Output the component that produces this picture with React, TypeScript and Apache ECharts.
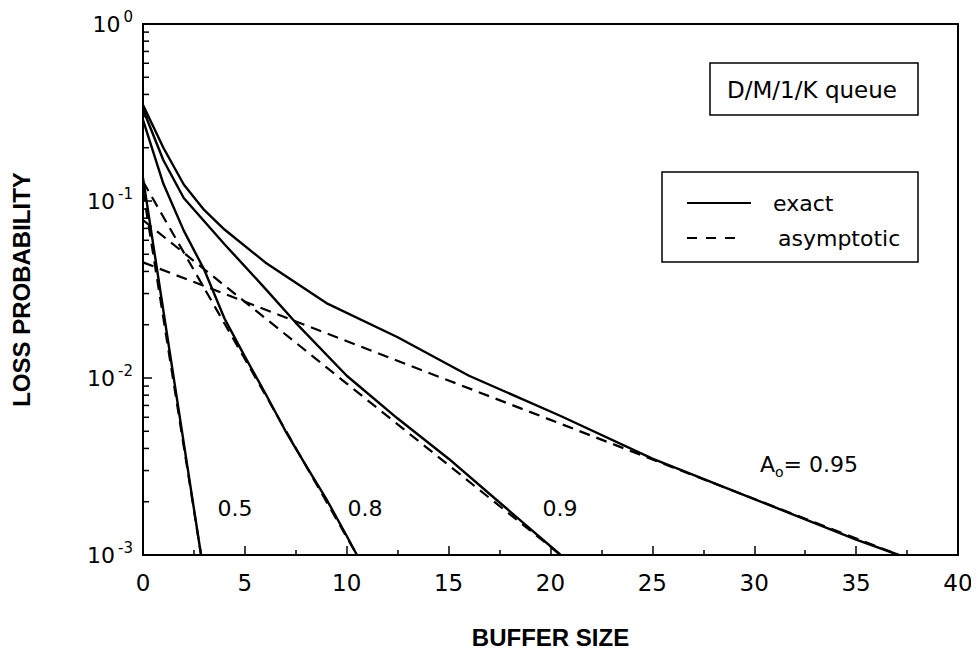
import React, { useEffect, useRef } from "react";
import * as echarts from "echarts";

// Buffer size (x) and loss probability (y)
const xExact05 = [0, 1, 2, 2.85];
const yExact05 = [0.135, 0.024, 0.0043, 0.001];
const xExact08 = [0, 1, 2, 3, 4, 5, 6, 7, 8, 9, 10, 10.5];
const yExact08 = [0.287, 0.125, 0.068, 0.041, 0.0217, 0.0132, 0.0082, 0.005, 0.0032, 0.00207, 0.00128, 0.001];
const xExact09 = [0, 1, 2, 4, 6, 7.5, 10, 12.5, 15, 17.5, 20.5];
const yExact09 = [0.33, 0.17, 0.104, 0.057, 0.032, 0.0205, 0.0103, 0.0059, 0.0035, 0.00198, 0.001];
const xExact095 = [0, 1, 2, 3, 4, 6, 9, 12.5, 16, 20.5, 25, 30, 35, 37.1];
const yExact095 = [0.349, 0.2, 0.124, 0.089, 0.069, 0.045, 0.0265, 0.017, 0.0103, 0.0061, 0.0035, 0.00207, 0.00122, 0.001];

const xAsym05 = [0, 2.85];
const yAsym05 = [0.115, 0.001];
const xAsym08 = [0, 5, 10.5];
const yAsym08 = [0.129, 0.0128, 0.001];
const xAsym09 = [0, 10, 20.5];
const yAsym09 = [0.078, 0.0093, 0.001];
const xAsym095 = [0, 20, 37.1];
const yAsym095 = [0.045, 0.0058, 0.001];

const yMinorTicks = [
  0.002, 0.003, 0.004, 0.005, 0.006, 0.007, 0.008, 0.009,
  0.02, 0.03, 0.04, 0.05, 0.06, 0.07, 0.08, 0.09,
  0.2, 0.3, 0.4, 0.5, 0.6, 0.7, 0.8, 0.9,
];

const FONT = "DejaVu Sans";
const BOLD_FONT = "Liberation Sans";

function pairs(xs: number[], ys: number[]) {
  return xs.map((x, i) => [x, ys[i]]);
}

function lineSeries(name: string, xs: number[], ys: number[], dashed: boolean) {
  return {
    name,
    type: "line",
    data: pairs(xs, ys),
    showSymbol: false,
    symbol: "none",
    smooth: false,
    lineStyle: {
      color: "#000",
      width: dashed ? 2.2 : 2.4,
      type: dashed ? [11, 7] : "solid",
    },
    z: dashed ? 3 : 4,
  };
}

export default function App() {
  const ref = useRef<HTMLDivElement>(null);

  useEffect(() => {
    if (!ref.current) return;
    const chart = echarts.init(ref.current, undefined, { renderer: "svg" });
    const option: any = {
      animation: false,
      backgroundColor: "#fff",
      grid: {
        left: 143,
        right: 21,
        top: 24,
        bottom: 97,
        show: true,
        borderColor: "#000",
        borderWidth: 2,
        backgroundColor: "transparent",
      },
      xAxis: {
        type: "value",
        min: 0,
        max: 40,
        interval: 5,
        axisLine: { show: true, lineStyle: { color: "#000", width: 2 } },
        axisTick: { show: true, inside: true, length: 9, lineStyle: { color: "#000", width: 1.5 } },
        minorTick: { show: true, splitNumber: 2, length: 5, lineStyle: { color: "#000", width: 1.5 } },
        splitLine: { show: false },
        axisLabel: { color: "#000", fontFamily: FONT, fontSize: 23, margin: 16 },
        name: "BUFFER SIZE",
        nameLocation: "middle",
        nameGap: 70,
        nameTextStyle: { color: "#000", fontFamily: BOLD_FONT, fontWeight: "bold", fontSize: 24 },
      },
      yAxis: {
        type: "log",
        logBase: 10,
        min: 0.001,
        max: 1,
        axisLine: { show: true, lineStyle: { color: "#000", width: 2 } },
        axisTick: { show: true, inside: true, length: 9, lineStyle: { color: "#000", width: 1.5 } },
        splitLine: { show: false },
        axisLabel: {
          margin: 10,
          formatter: (v: number) => {
            const e = Math.round(Math.log10(v));
            return "{b|10}{e|" + String(e) + "}";
          },
          rich: {
            b: { fontFamily: FONT, fontSize: 22, color: "#000", lineHeight: 30 },
            e: { fontFamily: FONT, fontSize: 15, color: "#000", verticalAlign: "top", lineHeight: 15, padding: [0, 0, 0, 3] },
          },
        },
        name: "LOSS PROBABILITY",
        nameLocation: "middle",
        nameRotate: 90,
        nameGap: 110,
        nameTextStyle: { color: "#000", fontFamily: BOLD_FONT, fontWeight: "bold", fontSize: 24 },
      },
      series: [
        lineSeries("exact 0.5", xExact05, yExact05, false),
        lineSeries("exact 0.8", xExact08, yExact08, false),
        lineSeries("exact 0.9", xExact09, yExact09, false),
        lineSeries("exact 0.95", xExact095, yExact095, false),
        lineSeries("asymptotic 0.5", xAsym05, yAsym05, true),
        lineSeries("asymptotic 0.8", xAsym08, yAsym08, true),
        lineSeries("asymptotic 0.9", xAsym09, yAsym09, true),
        lineSeries("asymptotic 0.95", xAsym095, yAsym095, true),
        {
          name: "minor ticks",
          type: "custom",
          silent: true,
          clip: false,
          z: 6,
          data: yMinorTicks.map((v) => [0, v]),
          renderItem: (_params: any, api: any) => {
            const p = api.coord([api.value(0), api.value(1)]);
            return {
              type: "line",
              shape: { x1: p[0], y1: p[1], x2: p[0] + 6, y2: p[1] },
              style: { stroke: "#000", lineWidth: 1.5 },
            };
          },
        },
      ],
      graphic: [
        {
          type: "rect",
          shape: { x: 710, y: 63, width: 208, height: 52 },
          style: { fill: "#fff", stroke: "#000", lineWidth: 1.5 },
          z: 10,
        },
        {
          type: "text",
          x: 812,
          y: 90,
          style: { text: "D/M/1/K queue", fontFamily: FONT, fontSize: 23, fill: "#000", align: "center", verticalAlign: "middle" },
          z: 11,
        },
        {
          type: "rect",
          shape: { x: 662, y: 172, width: 256, height: 90 },
          style: { fill: "#fff", stroke: "#000", lineWidth: 1.5 },
          z: 10,
        },
        {
          type: "line",
          shape: { x1: 687, y1: 203, x2: 751, y2: 203 },
          style: { stroke: "#000", lineWidth: 2 },
          z: 11,
        },
        {
          type: "text",
          x: 773,
          y: 203,
          style: { text: "exact", fontFamily: FONT, fontSize: 22, fill: "#000", align: "left", verticalAlign: "middle" },
          z: 11,
        },
        {
          type: "line",
          shape: { x1: 687, y1: 238, x2: 742, y2: 238 },
          style: { stroke: "#000", lineWidth: 2, lineDash: [10, 9] },
          z: 11,
        },
        {
          type: "text",
          x: 778,
          y: 238,
          style: { text: "asymptotic", fontFamily: FONT, fontSize: 22, fill: "#000", align: "left", verticalAlign: "middle" },
          z: 11,
        },
        {
          type: "text",
          x: 235,
          y: 508,
          style: { text: "0.5", fontFamily: FONT, fontSize: 22, fill: "#000", align: "center", verticalAlign: "middle" },
          z: 11,
        },
        {
          type: "text",
          x: 365,
          y: 508,
          style: { text: "0.8", fontFamily: FONT, fontSize: 22, fill: "#000", align: "center", verticalAlign: "middle" },
          z: 11,
        },
        {
          type: "text",
          x: 560,
          y: 508,
          style: { text: "0.9", fontFamily: FONT, fontSize: 22, fill: "#000", align: "center", verticalAlign: "middle" },
          z: 11,
        },
        {
          type: "text",
          x: 760,
          y: 464,
          style: {
            text: "{a|A}{s|o}{a|= 0.95}",
            align: "left",
            verticalAlign: "middle",
            rich: {
              a: { fontFamily: FONT, fontSize: 22, fill: "#000", lineHeight: 30 },
              s: { fontFamily: FONT, fontSize: 14, fill: "#000", verticalAlign: "bottom", lineHeight: 14 },
            },
          },
          z: 11,
        },
      ],
    };
    chart.setOption(option);
    return () => chart.dispose();
  }, []);

  return (
    <div style={{ margin: -8 }}>
      <div ref={ref} style={{ width: 979, height: 654 }} />
    </div>
  );
}
